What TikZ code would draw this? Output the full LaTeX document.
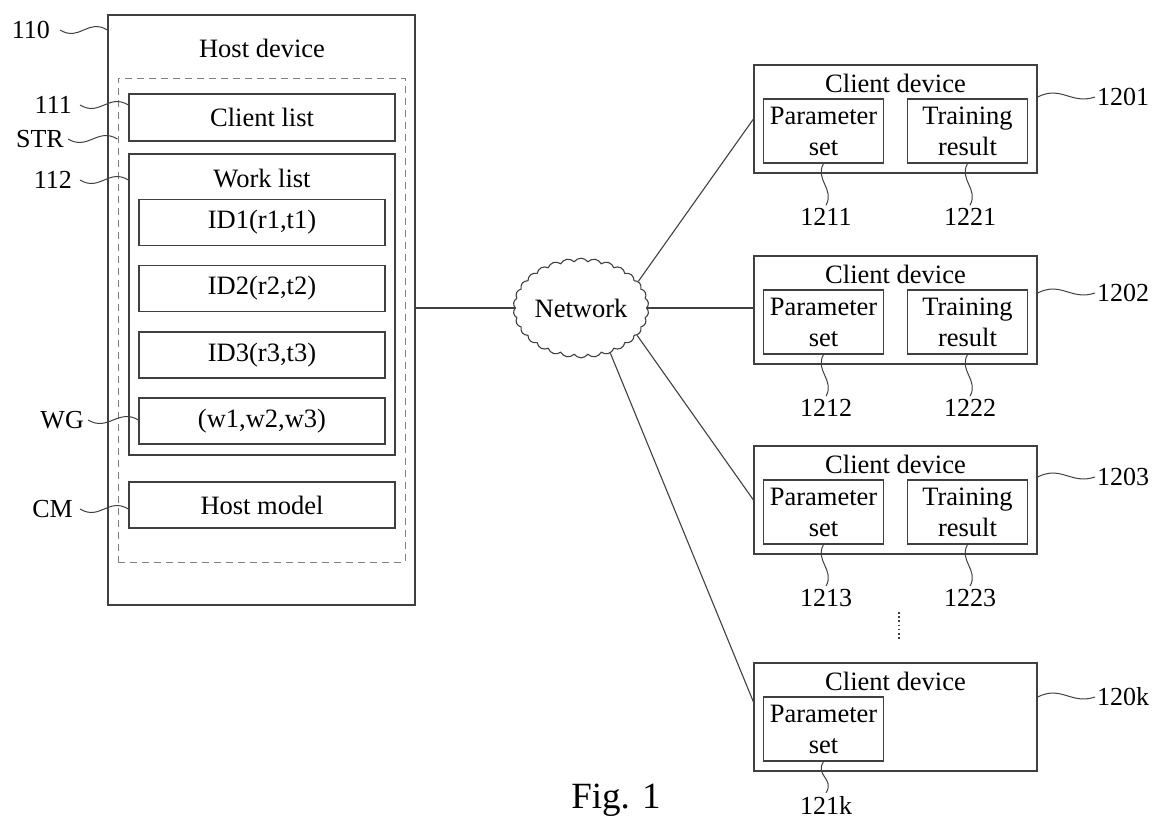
\documentclass[tikz,border=0pt]{standalone}
\usepackage{fontspec}
\setmainfont{Liberation Serif}
\usetikzlibrary{shapes.symbols,calc}
\begin{document}
\begin{tikzpicture}[x=1pt,y=-1pt,
  ln/.style={draw=black!75,line width=1.1pt},
  box/.style={ln,rectangle,inner sep=0pt,font=\fontsize{26.5}{31}\selectfont,align=center},
  txt/.style={inner sep=0pt,font=\fontsize{26.5}{31}\selectfont},
  lbl/.style={inner sep=0pt,font=\fontsize{26}{31}\selectfont},
  lead/.style={draw=black!75,line width=1pt}]
\useasboundingbox (0,0) rectangle (1154,823);
% host side
\node[box,minimum width=307,minimum height=590] (host) at (261.5,310) {};
\node[txt] (hosttxt) at (262,48) {Host device};
\node[draw=black!50,line width=1pt,dash pattern=on 7pt off 5pt,rectangle,minimum width=287,minimum height=484,inner sep=0pt] (str) at (261.5,320) {};
\node[box,minimum width=266,minimum height=47] (clist) at (262,117.5) {Client list};
\node[box,minimum width=266,minimum height=301] (wlist) at (262,304.5) {};
\node[txt] (wltxt) at (262,178) {Work list};
\node[box,minimum width=246,minimum height=46] (id1) at (262,222.5) {ID1(r1,t1)};
\node[box,minimum width=246,minimum height=46] (id2) at (262,288.5) {ID2(r2,t2)};
\node[box,minimum width=246,minimum height=46] (id3) at (262,355) {ID3(r3,t3)};
\node[box,minimum width=246,minimum height=46] (wg) at (262,421) {(w1,w2,w3)};
\node[box,minimum width=266,minimum height=46] (cm) at (262,505) {Host model};
% left labels
\node[lbl,anchor=east] (l110) at (50,30) {110};
\node[lbl,anchor=east] (l111) at (72,105) {111};
\node[lbl,anchor=east] (lstr) at (64,139) {STR};
\node[lbl,anchor=east] (l112) at (72,180) {112};
\node[lbl,anchor=east] (lwg) at (84,420) {WG};
\node[lbl,anchor=east] (lcm) at (73,509) {CM};
\draw[lead] ([xshift=10pt]l110.east) .. controls +(20,12) and +(-20,-12) .. (l110.east -| host.west);
\draw[lead] ([xshift=8pt]l111.east) .. controls +(20,12) and +(-20,-12) .. (l111.east -| clist.west);
\draw[lead] ([xshift=4pt]lstr.east) .. controls +(20,12) and +(-20,-12) .. (lstr.east -| str.west);
\draw[lead] ([xshift=8pt]l112.east) .. controls +(20,12) and +(-20,-12) .. (l112.east -| wlist.west);
\draw[lead] ([xshift=4pt]lwg.east) .. controls +(20,12) and +(-20,-12) .. (lwg.east -| wg.west);
\draw[lead] ([xshift=7pt]lcm.east) .. controls +(20,12) and +(-20,-12) .. (lcm.east -| cm.west);
% network
\node[ln,cloud,cloud puffs=30,cloud puff arc=110,aspect=1.41,minimum width=127,minimum height=90,inner sep=0pt,font=\fontsize{26.5}{31}\selectfont] (net) at (581,308) {Network};
% client devices
\foreach \i/\t/\ly in {1/65/97,2/256/293,3/446/477,4/663/697}{
  \node[box,minimum width=283,minimum height=108] (c\i) at (895.5,\t+54) {};
  \node[txt] (ct\i) at (895.5,\t+18) {Client device};
  \node[box,minimum width=120,minimum height=64] (p\i) at (823.5,\t+66) {Parameter\\set};
  \node[lbl,anchor=west] (lc\i) at (1097,\ly) {\ifnum\i=4 120k\else 120\i\fi};
  \draw[lead] ([yshift=-\ly+\t+54pt]c\i.east) .. controls +(24,-12) and +(-24,8) .. ([xshift=-2pt]lc\i.west);
}
\foreach \i/\t in {1/65,2/256,3/446}{
  \node[lbl] (lp\i) at (826,\t+152) {121\i};
  \draw[lead] (p\i.south) .. controls +(-9,16) and +(9,-16) .. ([yshift=3pt]lp\i.north);
  \node[box,minimum width=120,minimum height=64] (tr\i) at (967.5,\t+66) {Training\\result};
  \node[lbl] (lt\i) at (970,\t+152) {122\i};
  \draw[lead] (tr\i.south) .. controls +(-9,16) and +(9,-16) .. ([yshift=3pt]lt\i.north);
}
\node[lbl] (lp4) at (826,805) {121k};
\draw[lead] (p4.south) .. controls +(-9,14) and +(9,-14) .. ([yshift=3pt]lp4.north);
% connectors
\draw[ln] (net.west -| host.east) -- (net.west);
\draw[ln] (net.25) -- (c1.west);
\draw[ln] (net.east) -- (net.east -| c2.west);
\draw[ln] (net.-26) -- (c3.west);
\draw[ln] (net.-57) -- ([yshift=15pt]c4.west);
% dots
\coordinate (d1) at (899,612);
\coordinate (d2) at (899,640);
\draw[draw=black!75,line width=1.6pt,dash pattern=on 1.6pt off 2.6pt] (d1) -- (d2);
\node[inner sep=0pt,font=\fontsize{37}{44}\selectfont] (fig) at (616,800) {Fig. 1};
\end{tikzpicture}
\end{document}
